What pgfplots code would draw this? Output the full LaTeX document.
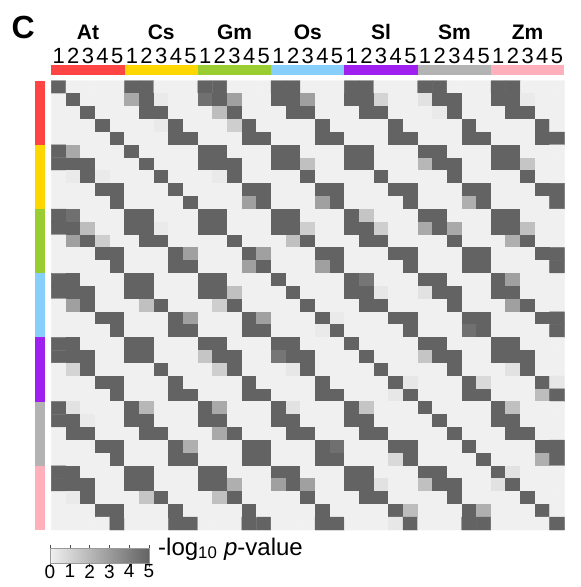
\documentclass[border=0pt]{standalone}
\usepackage{fontspec}
\setmainfont{Liberation Sans}
\usepackage{pgfplots}
\pgfplotsset{compat=1.18}
\definecolor{cAt}{HTML}{FF4444}
\definecolor{cCs}{HTML}{FFD700}
\definecolor{cGm}{HTML}{9ACD32}
\definecolor{cOs}{HTML}{87CEFA}
\definecolor{cSl}{HTML}{A020F0}
\definecolor{cSm}{HTML}{B3B3B3}
\definecolor{cZm}{HTML}{FFB0BA}
\begin{document}
\begin{tikzpicture}
\useasboundingbox (0pt,0pt) rectangle (581pt,-587pt);
\begin{axis}[
  at={(51.3pt,-80.7pt)}, anchor=north west,
  width=513pt, height=449.3pt, scale only axis,
  xmin=-0.5, xmax=34.5, ymin=-0.5, ymax=34.5,
  y dir=reverse,
  clip=false,
  axis line style={draw=none},
  tick style={draw=none},
  xtick=\empty, ytick=\empty,
  colormap={pv}{rgb255=(240,240,240) rgb255=(99,99,99)},
  point meta min=0, point meta max=5,
  colorbar horizontal,
  colorbar style={
    at={(parent axis.south west)}, anchor=north west,
    xshift=-1.3pt, yshift=-9.3pt,
    width=99pt, height=15.7pt, scale only axis,
    xtick={0,1,2,3,4,5}, xticklabels={0,1,2,3,4,5},
    xticklabel pos=lower,
    xtick align=outside, major tick length=3pt,
    tick style={draw=black!70, line width=0.5pt},
    axis line style={draw=black!40, line width=0.5pt},
    xticklabel style={font=\fontsize{19}{19}\selectfont, inner sep=1pt, yshift=3pt},
  },
]
\addplot[matrix plot*, mesh/cols=35, point meta=explicit]
  table[row sep=\\, x expr={\coordindex-35*floor((\coordindex+0.5)/35)}, y expr={floor((\coordindex+0.5)/35)}, meta=z] {
z\\
5\\ 0\\ 0\\ 0\\ 0\\ 5\\ 5\\ 0\\ 0\\ 0\\ 5\\ 5\\ 0\\ 0\\ 0\\ 5\\ 5\\ 0\\ 0\\ 0\\ 5\\ 5\\ 0\\ 0\\ 0\\ 5\\ 5\\ 0\\ 0\\ 0\\ 5\\ 5\\ 0\\ 0\\ 0\\
0\\ 5\\ 0\\ 0\\ 0\\ 2.5\\ 5\\ 0.2\\ 0\\ 0\\ 4.5\\ 5\\ 2.8\\ 0\\ 0\\ 5\\ 5\\ 2.8\\ 0\\ 0\\ 5\\ 5\\ 1.0\\ 0\\ 0\\ 0.5\\ 5\\ 5\\ 0\\ 0\\ 5\\ 5\\ 0.2\\ 0\\ 0\\
0\\ 0\\ 5\\ 0\\ 0\\ 0\\ 5\\ 5\\ 0\\ 0\\ 0\\ 1.8\\ 5\\ 0\\ 0\\ 0\\ 5\\ 5\\ 0\\ 0\\ 0\\ 5\\ 5\\ 0\\ 0\\ 0\\ 0.2\\ 5\\ 0\\ 0\\ 0\\ 5\\ 5\\ 0\\ 0\\
0\\ 0\\ 0\\ 5\\ 0\\ 0\\ 0\\ 0.2\\ 5\\ 0\\ 0\\ 0\\ 1.2\\ 5\\ 0\\ 0\\ 0\\ 0\\ 5\\ 0\\ 0\\ 0\\ 0\\ 5\\ 0\\ 0\\ 0\\ 0\\ 5\\ 0\\ 0\\ 0\\ 0\\ 5\\ 0\\
0\\ 0\\ 0\\ 0\\ 5\\ 0\\ 0\\ 0\\ 5\\ 5\\ 0\\ 0\\ 0\\ 5\\ 5\\ 0\\ 0\\ 0\\ 5\\ 5\\ 0\\ 0\\ 0\\ 5\\ 5\\ 0\\ 0\\ 0\\ 5\\ 5\\ 0\\ 0\\ 0\\ 5\\ 5\\
5\\ 2.5\\ 0\\ 0\\ 0\\ 5\\ 0\\ 0\\ 0\\ 0\\ 5\\ 5\\ 0\\ 0\\ 0\\ 5\\ 5\\ 0\\ 0\\ 0\\ 5\\ 5\\ 0\\ 0\\ 0\\ 5\\ 5\\ 0\\ 0\\ 0\\ 5\\ 5\\ 0\\ 0\\ 0\\
5\\ 5\\ 5\\ 0\\ 0\\ 0\\ 5\\ 0\\ 0\\ 0\\ 5\\ 5\\ 5\\ 0\\ 0\\ 5\\ 5\\ 1.7\\ 0\\ 0\\ 5\\ 5\\ 0\\ 0\\ 0\\ 2.0\\ 5\\ 5\\ 0\\ 0\\ 5\\ 5\\ 1.5\\ 0\\ 0\\
0\\ 0.2\\ 5\\ 0.2\\ 0\\ 0\\ 0\\ 5\\ 0\\ 0\\ 0\\ 0.2\\ 5\\ 0\\ 0\\ 0\\ 0\\ 5\\ 0\\ 0\\ 0\\ 0\\ 5\\ 0\\ 0\\ 0\\ 0\\ 5\\ 0\\ 0\\ 0\\ 0\\ 5\\ 0\\ 0\\
0\\ 0\\ 0\\ 5\\ 5\\ 0\\ 0\\ 0\\ 5\\ 0\\ 0\\ 0\\ 0\\ 5\\ 5\\ 0\\ 0\\ 0\\ 5\\ 5\\ 0\\ 0\\ 0\\ 5\\ 5\\ 0\\ 0\\ 0\\ 5\\ 5\\ 0\\ 0\\ 0\\ 5\\ 5\\
0\\ 0\\ 0\\ 0\\ 5\\ 0\\ 0\\ 0\\ 0\\ 5\\ 0\\ 0\\ 0\\ 2.8\\ 5\\ 0\\ 0\\ 0\\ 2.8\\ 5\\ 0\\ 0\\ 0\\ 0\\ 5\\ 0\\ 0\\ 0\\ 2.3\\ 5\\ 0\\ 0\\ 0\\ 0\\ 5\\
5\\ 4.5\\ 0\\ 0\\ 0\\ 5\\ 5\\ 0\\ 0\\ 0\\ 5\\ 5\\ 0\\ 0\\ 0\\ 5\\ 5\\ 0\\ 0\\ 0\\ 5\\ 1.5\\ 0\\ 0\\ 0\\ 5\\ 5\\ 0\\ 0\\ 0\\ 5\\ 5\\ 0\\ 0\\ 0\\
5\\ 5\\ 1.8\\ 0\\ 0\\ 5\\ 5\\ 0.2\\ 0\\ 0\\ 5\\ 5\\ 0\\ 0\\ 0\\ 5\\ 5\\ 1.2\\ 0\\ 0\\ 5\\ 5\\ 1.2\\ 0\\ 0\\ 2.5\\ 5\\ 2.5\\ 0\\ 0\\ 5\\ 5\\ 1.7\\ 0\\ 0\\
0\\ 2.8\\ 5\\ 1.2\\ 0\\ 0\\ 5\\ 5\\ 0\\ 0\\ 0\\ 0\\ 5\\ 0\\ 0\\ 0\\ 1.7\\ 5\\ 0\\ 0\\ 0\\ 5\\ 5\\ 0\\ 0\\ 0\\ 0\\ 5\\ 0\\ 0\\ 0\\ 2.3\\ 5\\ 0\\ 0\\
0\\ 0\\ 0\\ 5\\ 5\\ 0\\ 0\\ 0\\ 5\\ 2.8\\ 0\\ 0\\ 0\\ 5\\ 2.8\\ 0\\ 0\\ 0\\ 5\\ 5\\ 0\\ 0\\ 0\\ 5\\ 5\\ 0\\ 0\\ 0\\ 5\\ 5\\ 0\\ 0\\ 0\\ 5\\ 5\\
0\\ 0\\ 0\\ 0\\ 5\\ 0\\ 0\\ 0\\ 5\\ 5\\ 0\\ 0\\ 0\\ 2.8\\ 5\\ 0\\ 0\\ 0\\ 2.8\\ 5\\ 0\\ 0\\ 0\\ 0\\ 5\\ 0\\ 0\\ 0\\ 5\\ 5\\ 0\\ 0\\ 0\\ 0\\ 5\\
5\\ 5\\ 0\\ 0\\ 0\\ 5\\ 5\\ 0\\ 0\\ 0\\ 5\\ 5\\ 0\\ 0\\ 0\\ 5\\ 0\\ 0\\ 0\\ 0\\ 5\\ 4.3\\ 0\\ 0\\ 0\\ 5\\ 5\\ 0\\ 0\\ 0\\ 5\\ 2.8\\ 0\\ 0\\ 0\\
5\\ 5\\ 5\\ 0\\ 0\\ 5\\ 5\\ 0\\ 0\\ 0\\ 5\\ 5\\ 1.7\\ 0\\ 0\\ 0\\ 5\\ 0\\ 0\\ 0\\ 5\\ 5\\ 0.3\\ 0\\ 0\\ 0.5\\ 5\\ 5\\ 0\\ 0\\ 5\\ 5\\ 0\\ 0\\ 0\\
0\\ 2.8\\ 5\\ 0\\ 0\\ 0\\ 1.7\\ 5\\ 0\\ 0\\ 0\\ 1.2\\ 5\\ 0\\ 0\\ 0\\ 0\\ 5\\ 0\\ 0\\ 0\\ 5\\ 5\\ 0\\ 0\\ 0\\ 0\\ 5\\ 0\\ 0\\ 0\\ 2.8\\ 5\\ 0\\ 0\\
0\\ 0\\ 0\\ 5\\ 5\\ 0\\ 0\\ 0\\ 5\\ 2.8\\ 0\\ 0\\ 0\\ 5\\ 2.8\\ 0\\ 0\\ 0\\ 5\\ 0.2\\ 0\\ 0\\ 0\\ 5\\ 5\\ 0\\ 0\\ 0\\ 5\\ 5\\ 0\\ 0\\ 0\\ 5\\ 5\\
0\\ 0\\ 0\\ 0\\ 5\\ 0\\ 0\\ 0\\ 5\\ 5\\ 0\\ 0\\ 0\\ 5\\ 5\\ 0\\ 0\\ 0\\ 0.2\\ 5\\ 0\\ 0\\ 0\\ 0\\ 5\\ 0\\ 0\\ 0\\ 4.5\\ 5\\ 0\\ 0\\ 0\\ 0\\ 5\\
5\\ 5\\ 0\\ 0\\ 0\\ 5\\ 5\\ 0\\ 0\\ 0\\ 5\\ 5\\ 0\\ 0\\ 0\\ 5\\ 5\\ 0\\ 0\\ 0\\ 5\\ 0\\ 0\\ 0\\ 0\\ 5\\ 5\\ 0\\ 0\\ 0\\ 5\\ 5\\ 0\\ 0\\ 0\\
5\\ 5\\ 5\\ 0\\ 0\\ 5\\ 5\\ 0\\ 0\\ 0\\ 1.5\\ 5\\ 5\\ 0\\ 0\\ 4.3\\ 5\\ 5\\ 0\\ 0\\ 0\\ 5\\ 0\\ 0\\ 0\\ 1.5\\ 5\\ 5\\ 0\\ 0\\ 5\\ 5\\ 5\\ 0\\ 0\\
0\\ 1.0\\ 5\\ 0\\ 0\\ 0\\ 0\\ 5\\ 0\\ 0\\ 0\\ 1.2\\ 5\\ 0\\ 0\\ 0\\ 0.3\\ 5\\ 0\\ 0\\ 0\\ 0\\ 5\\ 0\\ 0\\ 0\\ 0\\ 5\\ 0\\ 0\\ 0\\ 0.5\\ 5\\ 0\\ 0\\
0\\ 0\\ 0\\ 5\\ 5\\ 0\\ 0\\ 0\\ 5\\ 0\\ 0\\ 0\\ 0\\ 5\\ 0\\ 0\\ 0\\ 0\\ 5\\ 0\\ 0\\ 0\\ 0\\ 5\\ 0.3\\ 0\\ 0\\ 0\\ 5\\ 0.8\\ 0\\ 0\\ 0\\ 5\\ 0.3\\
0\\ 0\\ 0\\ 0\\ 5\\ 0\\ 0\\ 0\\ 5\\ 5\\ 0\\ 0\\ 0\\ 5\\ 5\\ 0\\ 0\\ 0\\ 5\\ 5\\ 0\\ 0\\ 0\\ 0.3\\ 5\\ 0\\ 0\\ 0\\ 5\\ 5\\ 0\\ 0\\ 0\\ 1.8\\ 5\\
5\\ 0.5\\ 0\\ 0\\ 0\\ 5\\ 2.0\\ 0\\ 0\\ 0\\ 5\\ 2.5\\ 0\\ 0\\ 0\\ 5\\ 0.5\\ 0\\ 0\\ 0\\ 5\\ 1.5\\ 0\\ 0\\ 0\\ 5\\ 0\\ 0\\ 0\\ 0\\ 5\\ 1.7\\ 0\\ 0\\ 0\\
5\\ 5\\ 0.2\\ 0\\ 0\\ 5\\ 5\\ 0\\ 0\\ 0\\ 5\\ 5\\ 0\\ 0\\ 0\\ 5\\ 5\\ 0\\ 0\\ 0\\ 5\\ 5\\ 0\\ 0\\ 0\\ 0\\ 5\\ 0\\ 0\\ 0\\ 5\\ 5\\ 0\\ 0\\ 0\\
0\\ 5\\ 5\\ 0\\ 0\\ 0\\ 5\\ 5\\ 0\\ 0\\ 0\\ 2.5\\ 5\\ 0\\ 0\\ 0\\ 5\\ 5\\ 0\\ 0\\ 0\\ 5\\ 5\\ 0\\ 0\\ 0\\ 0\\ 5\\ 0\\ 0\\ 0\\ 5\\ 5\\ 0\\ 0\\
0\\ 0\\ 0\\ 5\\ 5\\ 0\\ 0\\ 0\\ 5\\ 2.3\\ 0\\ 0\\ 0\\ 5\\ 5\\ 0\\ 0\\ 0\\ 5\\ 4.5\\ 0\\ 0\\ 0\\ 5\\ 5\\ 0\\ 0\\ 0\\ 5\\ 0\\ 0\\ 0\\ 0\\ 5\\ 5\\
0\\ 0\\ 0\\ 0\\ 5\\ 0\\ 0\\ 0\\ 5\\ 5\\ 0\\ 0\\ 0\\ 5\\ 5\\ 0\\ 0\\ 0\\ 5\\ 5\\ 0\\ 0\\ 0\\ 0.8\\ 5\\ 0\\ 0\\ 0\\ 0\\ 5\\ 0\\ 0\\ 0\\ 2.3\\ 5\\
5\\ 5\\ 0\\ 0\\ 0\\ 5\\ 5\\ 0\\ 0\\ 0\\ 5\\ 5\\ 0\\ 0\\ 0\\ 5\\ 5\\ 0\\ 0\\ 0\\ 5\\ 5\\ 0\\ 0\\ 0\\ 5\\ 5\\ 0\\ 0\\ 0\\ 5\\ 0.5\\ 0\\ 0\\ 0\\
5\\ 5\\ 5\\ 0\\ 0\\ 5\\ 5\\ 0\\ 0\\ 0\\ 5\\ 5\\ 2.3\\ 0\\ 0\\ 2.8\\ 5\\ 2.8\\ 0\\ 0\\ 5\\ 5\\ 0.5\\ 0\\ 0\\ 1.7\\ 5\\ 5\\ 0\\ 0\\ 0.5\\ 5\\ 0\\ 0\\ 0\\
0\\ 0.2\\ 5\\ 0\\ 0\\ 0\\ 1.5\\ 5\\ 0\\ 0\\ 0\\ 1.7\\ 5\\ 0\\ 0\\ 0\\ 0\\ 5\\ 0\\ 0\\ 0\\ 5\\ 5\\ 0\\ 0\\ 0\\ 0\\ 5\\ 0\\ 0\\ 0\\ 0\\ 5\\ 0\\ 0\\
0\\ 0\\ 0\\ 5\\ 5\\ 0\\ 0\\ 0\\ 5\\ 0\\ 0\\ 0\\ 0\\ 5\\ 0\\ 0\\ 0\\ 0\\ 5\\ 0\\ 0\\ 0\\ 0\\ 5\\ 1.8\\ 0\\ 0\\ 0\\ 5\\ 2.3\\ 0\\ 0\\ 0\\ 5\\ 0\\
0\\ 0\\ 0\\ 0\\ 5\\ 0\\ 0\\ 0\\ 5\\ 5\\ 0\\ 0\\ 0\\ 5\\ 5\\ 0\\ 0\\ 0\\ 5\\ 5\\ 0\\ 0\\ 0\\ 0.3\\ 5\\ 0\\ 0\\ 0\\ 5\\ 5\\ 0\\ 0\\ 0\\ 0\\ 5\\
};
% column annotation bar
\addplot[fill=cAt, draw=none] coordinates {(-0.5,-0.944) (4.5,-0.944) (4.5,-1.723) (-0.5,-1.723)} --cycle;
\addplot[fill=cCs, draw=none] coordinates {(4.5,-0.944) (9.5,-0.944) (9.5,-1.723) (4.5,-1.723)} --cycle;
\addplot[fill=cGm, draw=none] coordinates {(9.5,-0.944) (14.5,-0.944) (14.5,-1.723) (9.5,-1.723)} --cycle;
\addplot[fill=cOs, draw=none] coordinates {(14.5,-0.944) (19.5,-0.944) (19.5,-1.723) (14.5,-1.723)} --cycle;
\addplot[fill=cSl, draw=none] coordinates {(19.5,-0.944) (24.5,-0.944) (24.5,-1.723) (19.5,-1.723)} --cycle;
\addplot[fill=cSm, draw=none] coordinates {(24.5,-0.944) (29.5,-0.944) (29.5,-1.723) (24.5,-1.723)} --cycle;
\addplot[fill=cZm, draw=none] coordinates {(29.5,-0.944) (34.5,-0.944) (34.5,-1.723) (29.5,-1.723)} --cycle;
% row annotation bar
\addplot[fill=cAt, draw=none] coordinates {(-1.612,-0.5) (-0.930,-0.5) (-0.930,4.5) (-1.612,4.5)} --cycle;
\addplot[fill=cCs, draw=none] coordinates {(-1.612,4.5) (-0.930,4.5) (-0.930,9.5) (-1.612,9.5)} --cycle;
\addplot[fill=cGm, draw=none] coordinates {(-1.612,9.5) (-0.930,9.5) (-0.930,14.5) (-1.612,14.5)} --cycle;
\addplot[fill=cOs, draw=none] coordinates {(-1.612,14.5) (-0.930,14.5) (-0.930,19.5) (-1.612,19.5)} --cycle;
\addplot[fill=cSl, draw=none] coordinates {(-1.612,19.5) (-0.930,19.5) (-0.930,24.5) (-1.612,24.5)} --cycle;
\addplot[fill=cSm, draw=none] coordinates {(-1.612,24.5) (-0.930,24.5) (-0.930,29.5) (-1.612,29.5)} --cycle;
\addplot[fill=cZm, draw=none] coordinates {(-1.612,29.5) (-0.930,29.5) (-0.930,34.5) (-1.612,34.5)} --cycle;
% column numbers
\foreach \j in {0,...,34} {
  \pgfmathtruncatemacro{\num}{mod(\j,5)+1}
  \edef\temp{\noexpand\node[anchor=base, inner sep=0pt, font=\noexpand\fontsize{22}{22}\noexpand\selectfont]
    at ([yshift=17.7pt]axis cs:\j,-0.5) {\num};}
  \temp
}
% group labels
\foreach \lab [count=\i from 0] in {At,Cs,Gm,Os,Sl,Sm,Zm} {
  \edef\temp{\noexpand\node[anchor=base, font=\noexpand\bfseries\noexpand\fontsize{21}{21}\noexpand\selectfont]
    at ([yshift=41.4pt]axis cs:{5*\i+2},-0.5) {\lab};}
  \temp
}
\node[anchor=base, font=\bfseries\fontsize{32}{32}\selectfont] at ([xshift=-28pt, yshift=42.7pt]axis cs:-0.5,-0.5) {C};
\node[anchor=base west, inner sep=0pt, font=\fontsize{24}{24}\selectfont] at ([yshift=-25pt]axis cs:6.78,34.5) {-log\textsubscript{10} \textit{p}-value};
\end{axis}
\end{tikzpicture}
\end{document}
